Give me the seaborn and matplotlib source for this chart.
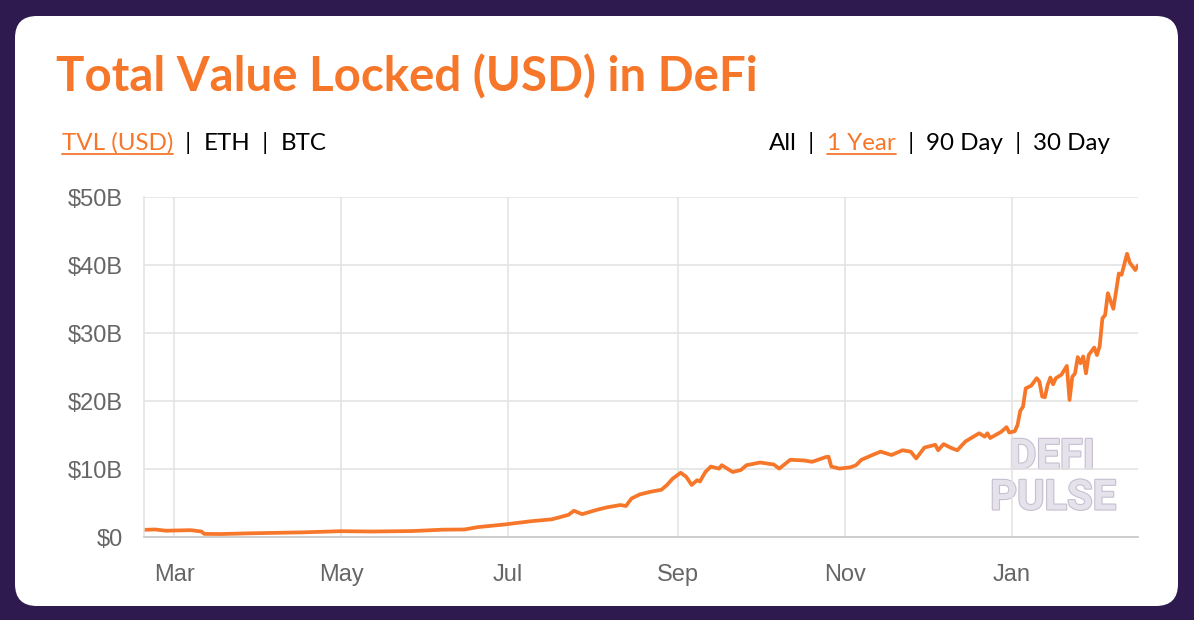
import pandas as pd
import seaborn as sns
import matplotlib.pyplot as plt
import matplotlib.dates as mdates
import matplotlib.patheffects as pe
from matplotlib.patches import FancyBboxPatch
from matplotlib.ticker import FuncFormatter

# TVL in billions of USD
dates = [
    '2020-02-19', '2020-02-23', '2020-02-27', '2020-03-07', '2020-03-11', '2020-03-12',
    '2020-03-18', '2020-03-29', '2020-04-17', '2020-05-01', '2020-05-12', '2020-05-27',
    '2020-06-07', '2020-06-15', '2020-06-20', '2020-06-30', '2020-07-09', '2020-07-17',
    '2020-07-23', '2020-07-25', '2020-07-28', '2020-08-02', '2020-08-06', '2020-08-11',
    '2020-08-13', '2020-08-15', '2020-08-18', '2020-08-22', '2020-08-26', '2020-08-28',
    '2020-08-30', '2020-09-02', '2020-09-04', '2020-09-06', '2020-09-08', '2020-09-09',
    '2020-09-11', '2020-09-13', '2020-09-16', '2020-09-17', '2020-09-21', '2020-09-24',
    '2020-09-26', '2020-10-01', '2020-10-06', '2020-10-08', '2020-10-12', '2020-10-17',
    '2020-10-20', '2020-10-25', '2020-10-26', '2020-10-27', '2020-10-30', '2020-11-03',
    '2020-11-05', '2020-11-07', '2020-11-11', '2020-11-14', '2020-11-18', '2020-11-22',
    '2020-11-25', '2020-11-27', '2020-11-30', '2020-12-04', '2020-12-05', '2020-12-07',
    '2020-12-10', '2020-12-12', '2020-12-15', '2020-12-20', '2020-12-22', '2020-12-23',
    '2020-12-24', '2020-12-28', '2020-12-30', '2020-12-31', '2021-01-02', '2021-01-03',
    '2021-01-04', '2021-01-05', '2021-01-06', '2021-01-08', '2021-01-10', '2021-01-11',
    '2021-01-12', '2021-01-13', '2021-01-14', '2021-01-15', '2021-01-16', '2021-01-17',
    '2021-01-19', '2021-01-21', '2021-01-22', '2021-01-23', '2021-01-24', '2021-01-25',
    '2021-01-26', '2021-01-27', '2021-01-28', '2021-01-29', '2021-01-31', '2021-02-01',
    '2021-02-02', '2021-02-03', '2021-02-04', '2021-02-05', '2021-02-07', '2021-02-09',
    '2021-02-10', '2021-02-12', '2021-02-13', '2021-02-15', '2021-02-16',
]
tvl_billions = [
    1.10, 1.15, 0.97, 1.05, 0.85, 0.50,
    0.48, 0.59, 0.73, 0.90, 0.85, 0.92,
    1.12, 1.15, 1.50, 1.90, 2.35, 2.65,
    3.30, 3.90, 3.40, 4.00, 4.40, 4.75,
    4.60, 5.70, 6.30, 6.70, 7.00, 7.70,
    8.60, 9.50, 8.90, 7.70, 8.40, 8.20,
    9.60, 10.40, 10.10, 10.60, 9.60, 9.90,
    10.60, 11.00, 10.70, 10.10, 11.40, 11.30,
    11.10, 11.80, 11.85, 10.40, 10.10, 10.30,
    10.60, 11.40, 12.10, 12.60, 12.10, 12.80,
    12.60, 11.60, 13.20, 13.60, 12.80, 13.70,
    13.10, 12.80, 14.10, 15.30, 14.80, 15.30,
    14.60, 15.50, 16.20, 15.40, 15.60, 16.50,
    18.60, 19.20, 21.90, 22.30, 23.40, 22.90,
    20.70, 20.60, 22.40, 23.50, 22.50, 23.40,
    23.90, 25.20, 20.20, 23.60, 24.10, 26.50,
    25.60, 26.60, 24.10, 26.80, 27.90, 26.80,
    28.10, 32.20, 32.70, 35.90, 33.60, 38.80,
    38.60, 41.70, 40.40, 39.30, 40.00,
]
y_ticks = [0, 10, 20, 30, 40, 50]
title = 'Total Value Locked (USD) in DeFi'
left_tabs = ['TVL (USD)', 'ETH', 'BTC']
right_tabs = ['All', '1 Year', '90 Day', '30 Day']

ORANGE = '#f7772a'
PURPLE = '#2e1a4f'
GRID = '#e2e2e2'

df = pd.DataFrame({'date': pd.to_datetime(dates), 'tvl': tvl_billions})

sns.set_style('white')
plt.rcParams['font.family'] = ['Liberation Sans', 'DejaVu Sans']

W, H = 1194, 620
fig = plt.figure(figsize=(W / 100, H / 100), dpi=100)
fig.patch.set_facecolor(PURPLE)

# background layer in pixel coordinates: white card and header texts
bg = fig.add_axes([0, 0, 1, 1])
bg.set_xlim(0, W)
bg.set_ylim(H, 0)
bg.axis('off')
bg.add_patch(FancyBboxPatch((15, 16), 1163, 590, boxstyle='round,pad=0,rounding_size=22',
                            fc='white', ec='none'))

fig.canvas.draw()
renderer = fig.canvas.get_renderer()
inv = bg.transData.inverted()


def span(t):
    pts = inv.transform(t.get_window_extent(renderer).get_points())
    return pts[0][0], pts[1][0]


# title stretched to the width it has in the original (56 -> 757 px)
tt = bg.text(56, 91, title, color=ORANGE, fontsize=31, fontweight='bold', family='Lato',
             va='baseline', ha='left')
x0, x1 = span(tt)
tt.set_fontsize(31 * 701 / (x1 - x0))


def tab_row(x0, labels, active, right=None):
    items = []
    x = x0
    for i, lab in enumerate(labels):
        if i > 0:
            t = bg.text(x, 150, '  |  ', color='black', fontsize=17.4, family='Lato',
                        va='baseline', ha='left')
            items.append((t, None))
            x = span(t)[1]
        col = ORANGE if lab == active else 'black'
        t = bg.text(x, 150, lab, color=col, fontsize=17.4, family='Lato',
                    va='baseline', ha='left')
        x1 = span(t)[1]
        ul = None
        if lab == active:
            ul = bg.plot([x, x1], [153.5, 153.5], color=ORANGE, lw=1.3)[0]
        items.append((t, ul))
        x = x1
    if right is not None:
        dx = right - x
        for t, ul in items:
            px, py = t.get_position()
            t.set_position((px + dx, py))
            if ul is not None:
                ul.set_xdata([v + dx for v in ul.get_xdata()])


tab_row(62, left_tabs, 'TVL (USD)')
tab_row(777, right_tabs, '1 Year', right=1110)

# watermark
wm = dict(color='#e6e2ec', fontsize=30, fontweight='bold', family='Roboto', ha='center',
          va='center', path_effects=[pe.withStroke(linewidth=1.6, foreground='#c6bfd1')])
bg.text(1052, 457, 'DEFI', **wm)
bg.text(1053, 498, 'PULSE', **wm)

# chart
ax = fig.add_axes([144 / W, (H - 537.3) / H, (1138 - 144) / W, 340 / H])
ax.set_facecolor('none')
sns.lineplot(data=df, x='date', y='tvl', ax=ax, color=ORANGE, linewidth=2.7)
for ln in ax.get_lines():
    ln.set_solid_joinstyle('round')

ax.set_xlim(df['date'].min(), df['date'].max())
ax.set_ylim(y_ticks[0], y_ticks[-1])
ax.set_yticks(y_ticks)
ax.yaxis.set_major_formatter(FuncFormatter(lambda v, p: f'${v:.0f}B' if v else '$0'))
ax.xaxis.set_major_locator(mdates.MonthLocator(bymonth=[1, 3, 5, 7, 9, 11]))
ax.xaxis.set_major_formatter(mdates.DateFormatter('%b'))
ax.set_xlabel('')
ax.set_ylabel('')

ax.grid(True, color=GRID, lw=1.1)
for s in ['top', 'right']:
    ax.spines[s].set_visible(False)
ax.spines['left'].set_color(GRID)
ax.spines['bottom'].set_color('#cccccc')
ax.spines['left'].set_linewidth(1.1)
ax.spines['bottom'].set_linewidth(1.3)
ax.tick_params(axis='both', length=14, width=1.1, color=GRID, labelsize=17, labelcolor='#666666')
ax.tick_params(axis='y', pad=1)
ax.tick_params(axis='x', pad=5)

fig.savefig('out.png', dpi=100, facecolor=PURPLE)
